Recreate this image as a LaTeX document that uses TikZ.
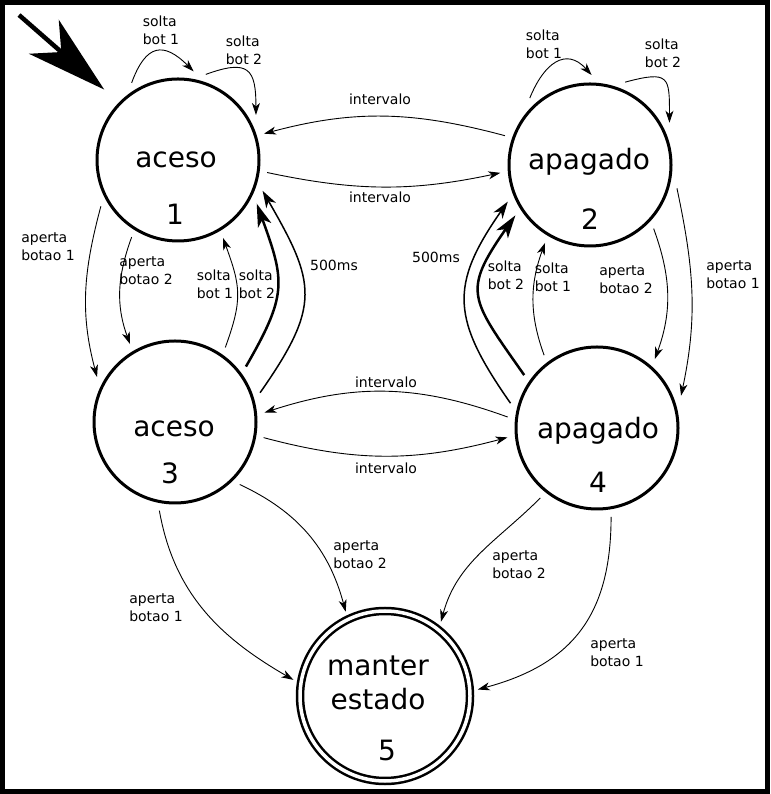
\documentclass[tikz,border=0pt]{standalone}
\usepackage{fontspec}
\setmainfont{DejaVu Sans}
\usetikzlibrary{arrows.meta}

\begin{document}
\begin{tikzpicture}[x=1pt,y=1pt,
state/.style={draw, circle, line width=3pt, minimum size=162pt, inner sep=0pt, outer sep=9pt},
final/.style={draw, circle, double, line width=2.5pt, double distance=3.5pt, minimum size=170pt,
inner sep=0pt, outer sep=8pt},
big/.style={font=\fontsize{28}{30}\selectfont, anchor=base, inner sep=0pt},
lbl/.style={font=\fontsize{14}{18}\selectfont, align=left, inner sep=0pt},
trans/.style={line width=0.9pt, -{Stealth[length=12pt,width=8pt,inset=3.5pt]}},
transthick/.style={line width=2.5pt, -{Stealth[length=23pt,width=14pt,inset=6pt]}},
timer/.style={line width=1.5pt, -{Stealth[length=17pt,width=11pt,inset=5pt]}}]
\useasboundingbox (0,0) rectangle (770,794);
\draw[line width=5pt] (2.5,2.5) rectangle (767.5,791.5);

\node[state] (aceso1) at (178,634) {};
\node[state] (apagado2) at (590,629) {};
\node[state] (aceso3) at (175,372) {};
\node[state] (apagado4) at (597,366) {};
\node[final] (manter5) at (385,98) {};

\node[big] (t1) at (176,626) {aceso};
\node[big] (n1) at (175,569) {1};
\node[big] (t2) at (589,624) {apagado};
\node[big] (n2) at (590,564) {2};
\node[big] (t3) at (174,357) {aceso};
\node[big] (n3) at (170,310) {3};
\node[big] (t4) at (598,355) {apagado};
\node[big] (n4) at (598,301) {4};
\node[big] (t5a) at (378,118) {manter};
\node[big] (t5b) at (378,84) {estado};
\node[big] (n5) at (387,33) {5};

\coordinate (start) at (19,779);
\draw[line width=4.5pt, -{Stealth[length=80pt,width=45pt,inset=23pt]}, shorten >=12pt] (start) -- (aceso1.136);

\draw[trans] (aceso1.121) to[out=70,in=135,distance=42pt] (aceso1.80);
\draw[trans] (aceso1.72) to[out=20,in=90,distance=46pt] (aceso1.30);
\draw[trans] (apagado2.132) to[out=68,in=132,distance=38pt] (apagado2.89);
\draw[trans] (apagado2.67) to[out=15,in=90,distance=46pt] (apagado2.28);
\draw[trans] (apagado2.161) to[out=165,in=15] (aceso1.17);
\draw[trans] (aceso1.-8) to[out=-12,in=-168] (apagado2.185);
\draw[trans] (aceso1.211) to[out=255,in=105] (aceso3.150);
\draw[trans] (aceso1.239) to[out=250,in=110] (aceso3.120);
\draw[trans] (aceso3.56) to[out=70,in=-70,looseness=1.2] (aceso1.-60);
\draw[transthick] (aceso3.38) to[out=60,in=-70,looseness=1.3] (aceso1.-29);
\draw[timer] (aceso3.19) to[out=55,in=-60,looseness=1.35] (aceso1.-20);
\draw[trans] (apagado4.126) to[out=110,in=250] (apagado2.240);
\draw[transthick] (apagado4.144) to[out=125,in=235,looseness=1.5] (apagado2.214);
\draw[timer] (apagado4.164) to[out=125,in=235,looseness=1.3] (apagado2.204);
\draw[trans] (apagado2.-45) to[out=-70,in=70] (apagado4.50);
\draw[trans] (apagado2.-15) to[out=-78,in=78] (apagado4.21);
\draw[trans] (apagado4.173) to[out=160,in=18] (aceso3.6);
\draw[trans] (aceso3.-10) to[out=-15,in=-165] (apagado4.186);
\draw[trans] (aceso3.260) to[out=-80,in=150] (manter5.170);
\draw[trans] (aceso3.-44) to[out=-25,in=105] (manter5.115);
\draw[trans] (apagado4.231) to[out=225,in=75] (manter5.53);
\draw[trans] (apagado4.-81) to[out=-90,in=15,looseness=1.15] (manter5.4);

\node[lbl] (l1a) at (161,764) {solta\\bot 1};
\node[lbl] (l1b) at (244,744) {solta\\bot 2};
\node[lbl] (l2a) at (544,750) {solta\\bot 1};
\node[lbl] (l2b) at (663,741) {solta\\bot 2};
\node[lbl] (l21) at (380,695) {intervalo};
\node[lbl] (l12) at (380,597) {intervalo};
\node[lbl] (l13a) at (48,547) {aperta\\botao 1};
\node[lbl] (l13b) at (146,523) {aperta\\botao 2};
\node[lbl] (l31a) at (215,510) {solta\\bot 1};
\node[lbl] (l31b) at (257,510) {solta\\bot 2};
\node[lbl] (l31t) at (334,529) {500ms};
\node[lbl] (l42t) at (436,537) {500ms};
\node[lbl] (l42b) at (506,519) {solta\\bot 2};
\node[lbl] (l42a) at (553,517) {solta\\bot 1};
\node[lbl] (l24b) at (626,514) {aperta\\botao 2};
\node[lbl] (l24a) at (733,519) {aperta\\botao 1};
\node[lbl] (l43) at (386,412) {intervalo};
\node[lbl] (l34) at (386,326) {intervalo};
\node[lbl] (l35a) at (156,186) {aperta\\botao 1};
\node[lbl] (l35b) at (360,239) {aperta\\botao 2};
\node[lbl] (l45b) at (519,229) {aperta\\botao 2};
\node[lbl] (l45a) at (617,141) {aperta\\botao 1};
\end{tikzpicture}
\end{document}
